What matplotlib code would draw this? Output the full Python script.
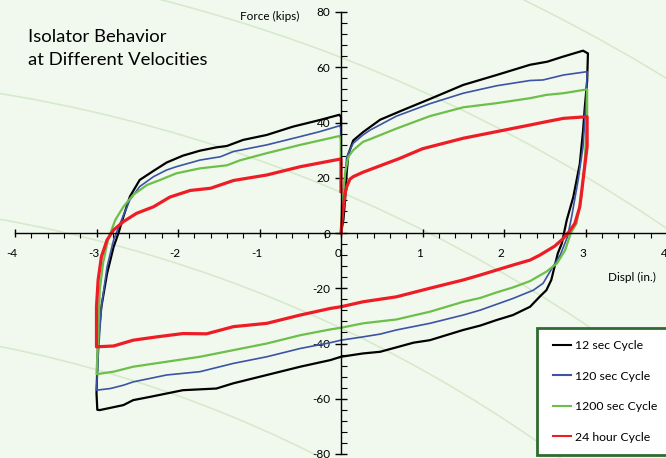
import matplotlib
matplotlib.use("Agg")
import matplotlib.pyplot as plt
import matplotlib.transforms as mtransforms
from matplotlib.patches import Circle, Rectangle
from matplotlib.ticker import MultipleLocator

plt.rcParams['font.family'] = ['Lato', 'DejaVu Sans']
plt.rcParams['axes.unicode_minus'] = False

# hysteresis loops: displacement (in.) and force (kips)
disp_12 = [0.00, 0.03, 0.05, 0.07, 0.09, 0.15, 0.27, 0.48, 0.76, 1.09, 1.50, 1.91, 2.32, 2.53, 2.72,
           2.97, 3.03, 3.02, 2.99, 2.97, 2.93, 2.85, 2.77, 2.71, 2.66, 2.58, 2.52, 2.44, 2.32, 2.11,
           1.91, 1.71, 1.50, 1.09, 0.89, 0.48, 0.27, 0.00, -0.13, -0.50, -0.91, -1.32, -1.53, -1.94,
           -2.34, -2.55, -2.67, -2.96, -2.99, -3.00, -2.98, -2.94, -2.87, -2.79, -2.73, -2.67, -2.59,
           -2.47, -2.30, -2.14, -1.94, -1.73, -1.53, -1.40, -1.20, -0.91, -0.59, -0.26, -0.02, 0.00, 0.00]
force_12 = [0.0, 5.0, 12.0, 22.0, 28.5, 33.5, 36.5, 41.0, 44.5, 48.5, 53.6, 57.2, 60.9, 62.0, 63.8,
            66.0, 65.0, 55.0, 45.0, 37.0, 25.0, 13.0, 4.7, -3.7, -7.4, -17.0, -20.7, -23.0, -26.7, -29.7,
            -31.5, -33.5, -35.1, -38.8, -39.7, -43.0, -43.6, -44.8, -46.0, -48.4, -51.4, -54.4, -56.3, -56.9,
            -59.3, -60.5, -62.3, -64.1, -64.0, -58.0, -38.8, -26.7, -14.6, -5.0, 0.0, 5.9, 13.2,
            19.2, 22.5, 25.5, 28.0, 29.8, 31.0, 31.5, 33.7, 35.5, 38.5, 40.9, 42.8, 42.0, 27.5]

disp_120 = [0.00, 0.02, 0.04, 0.07, 0.15, 0.27, 0.36, 0.68, 1.09, 1.50, 1.91, 2.32, 2.48, 2.73, 3.02,
            3.01, 2.97, 2.91, 2.83, 2.78, 2.69, 2.60, 2.48, 2.36, 2.11, 1.91, 1.71, 1.50, 1.09, 0.68,
            0.48, 0.27, 0.00, -0.13, -0.50, -0.91, -1.32, -1.73, -2.14, -2.55, -2.67, -2.83, -3.00,
            -2.98, -2.94, -2.87, -2.79, -2.71, -2.59, -2.47, -2.30, -2.14, -2.02, -1.73, -1.48, -1.32,
            -0.91, -0.50, -0.26, -0.02, 0.00, 0.00]
force_120 = [0.0, 8.0, 17.0, 27.6, 32.5, 35.5, 37.3, 42.3, 46.8, 50.6, 53.3, 55.2, 55.4, 57.2, 58.4,
             49.4, 31.3, 19.2, 5.9, -1.3, -8.0, -12.2, -18.2, -20.7, -23.7, -25.8, -27.9, -29.7, -32.7, -35.1,
             -36.6, -37.6, -38.8, -39.7, -41.8, -44.8, -47.2, -50.2, -51.4, -53.9, -55.1, -56.3, -56.9,
             -44.8, -26.7, -12.2, -2.5, 3.5, 12.0, 16.8, 20.4, 22.8, 24.0, 26.4, 27.6, 29.5,
             31.9, 34.9, 36.7, 38.8, 38.0, 31.0]

disp_1200 = [0.00, 0.01, 0.03, 0.05, 0.09, 0.15, 0.27, 0.36, 0.68, 1.09, 1.50, 1.91, 2.32, 2.52, 2.73,
             3.02, 3.02, 2.99, 2.95, 2.89, 2.82, 2.75, 2.65, 2.52, 2.32, 2.11, 1.91, 1.71, 1.50, 1.09,
             0.68, 0.27, 0.00, -0.13, -0.50, -0.91, -1.32, -1.73, -2.14, -2.55, -2.79, -3.00, -2.98,
             -2.96, -2.92, -2.86, -2.77, -2.67, -2.55, -2.38, -2.22, -2.02, -1.73, -1.40, -1.24, -0.91,
             -0.50, -0.02, 0.00, 0.00]
force_1200 = [0.0, 9.5, 15.6, 21.6, 27.6, 30.0, 33.0, 34.0, 37.8, 42.3, 45.5, 47.0, 48.8, 50.0, 50.6,
              52.0, 43.4, 25.3, 13.2, 3.5, 0.0, -6.2, -11.0, -14.0, -17.4, -19.7, -21.5, -23.5, -24.9, -28.5,
              -31.3, -32.7, -34.3, -34.9, -37.0, -40.0, -42.4, -44.8, -46.6, -48.4, -50.2, -51.1, -38.8,
              -20.7, -11.0, -2.5, 4.7, 9.5, 13.8, 17.4, 19.2, 21.6, 23.4, 24.5, 26.3, 28.9,
              31.9, 35.1, 34.0, 25.0]

disp_24h = [0.00, 0.01, 0.02, 0.05, 0.07, 0.11, 0.15, 0.27, 0.36, 0.72, 1.00, 1.50, 1.91, 2.32, 2.52,
            2.73, 3.02, 3.02, 2.97, 2.93, 2.87, 2.80, 2.72, 2.62, 2.44, 2.32, 2.11, 1.91, 1.71, 1.50,
            1.09, 0.68, 0.27, 0.00, -0.13, -0.50, -0.91, -1.32, -1.65, -1.94, -2.26, -2.55, -2.79,
            -3.00, -3.00, -2.98, -2.94, -2.87, -2.79, -2.67, -2.51, -2.30, -2.10, -1.85, -1.60, -1.32,
            -0.91, -0.50, -0.02, 0.00, 0.00]
force_24h = [0.0, 3.5, 7.0, 14.4, 16.8, 19.5, 20.4, 22.0, 23.0, 27.0, 30.5, 34.3, 36.7, 39.1, 40.3,
             41.5, 42.1, 31.3, 19.2, 9.5, 3.5, 0.5, -2.2, -4.8, -8.0, -9.8, -11.6, -13.4, -15.2, -17.0,
             -20.0, -23.1, -24.9, -26.7, -27.3, -29.7, -32.7, -33.9, -36.5, -36.4, -37.6, -38.8, -40.9,
             -41.2, -26.7, -17.0, -8.6, -2.5, 1.1, 4.1, 7.1, 9.5, 13.0, 15.4, 16.2, 19.0,
             21.0, 24.0, 26.7, 26.7, 15.0]

labels = ['12 sec Cycle', '120 sec Cycle', '1200 sec Cycle', '24 hour Cycle']
colors = ['#000000', '#3b54a5', '#6cbf4a', '#ee1c25']
widths = [1.6, 1.2, 1.6, 2.3]

W, H = 666, 458
fig = plt.figure(figsize=(W / 100, H / 100), dpi=100)
fig.patch.set_facecolor('#f1f8ed')

# faint decorative arcs in the background (pixel space)
bg = fig.add_axes([0, 0, 1, 1])
bg.set_xlim(0, W)
bg.set_ylim(H, 0)
bg.axis('off')
for r in [1237, 1362, 1486, 1611, 1737]:
    bg.add_patch(Circle((-240, 1560), r, fill=False, ec='#d5e9cb', lw=1.1))
# legend box
bg.add_patch(Rectangle((537, 328), 135, 127, fc='white', ec='#2e6b30', lw=2, zorder=5))

ax = fig.add_axes([15 / W, 4 / H, 652 / W, 442 / H])
ax.patch.set_alpha(0)
ax.set_zorder(6)
series = [(disp_12, force_12), (disp_120, force_120), (disp_1200, force_1200), (disp_24h, force_24h)]
for (xs, ys), lab, c, lw in zip(series, labels, colors, widths):
    ax.plot(xs, ys, color=c, lw=lw, label=lab, solid_joinstyle='round')

ax.set_xlim(-4, 4)
ax.set_ylim(-80, 80)
for side in ['top', 'right']:
    ax.spines[side].set_visible(False)
ax.spines['left'].set_position('zero')
ax.spines['bottom'].set_position('zero')
ax.spines['left'].set_linewidth(1.0)
ax.spines['bottom'].set_linewidth(1.0)
ax.xaxis.set_major_locator(MultipleLocator(1))
ax.xaxis.set_minor_locator(MultipleLocator(0.2))
ax.yaxis.set_major_locator(MultipleLocator(20))
ax.yaxis.set_minor_locator(MultipleLocator(4))
ax.tick_params(axis='x', which='major', direction='inout', length=6, width=1, labelsize=8.5, pad=8)
ax.tick_params(axis='x', which='minor', direction='out', length=3.5, width=0.8)
ax.tick_params(axis='y', which='major', direction='inout', length=9, width=1, labelsize=8.5, pad=3)
ax.tick_params(axis='y', which='minor', direction='in', length=4, width=0.8)
shift = mtransforms.ScaledTranslation(-3 / 100, 0, fig.dpi_scale_trans)
for lab in ax.get_xticklabels():
    lab.set_transform(lab.get_transform() + shift)

fig.text(28 / W, 1 - 41.7 / H, 'Isolator Behavior', fontsize=13.3, va='baseline', ha='left')
fig.text(28 / W, 1 - 65 / H, 'at Different Velocities', fontsize=13.3, va='baseline', ha='left')
fig.text(299 / W, 1 - 16 / H, 'Force (kips)', fontsize=8.5, va='center', ha='right')
fig.text(608 / W, 1 - 277 / H, 'Displ (in.)', fontsize=8.5, va='center', ha='left')

leg = ax.legend(loc='upper left', bbox_to_anchor=(553 / W, 1 - 340 / H),
                bbox_transform=fig.transFigure, fontsize=8.8, frameon=False,
                borderpad=0, labelspacing=1.6, handlelength=1.5, handletextpad=0.3,
                borderaxespad=0)
for h in leg.get_lines():
    h.set_linewidth(1.5)

fig.savefig('out.png', dpi=100, facecolor=fig.get_facecolor())
